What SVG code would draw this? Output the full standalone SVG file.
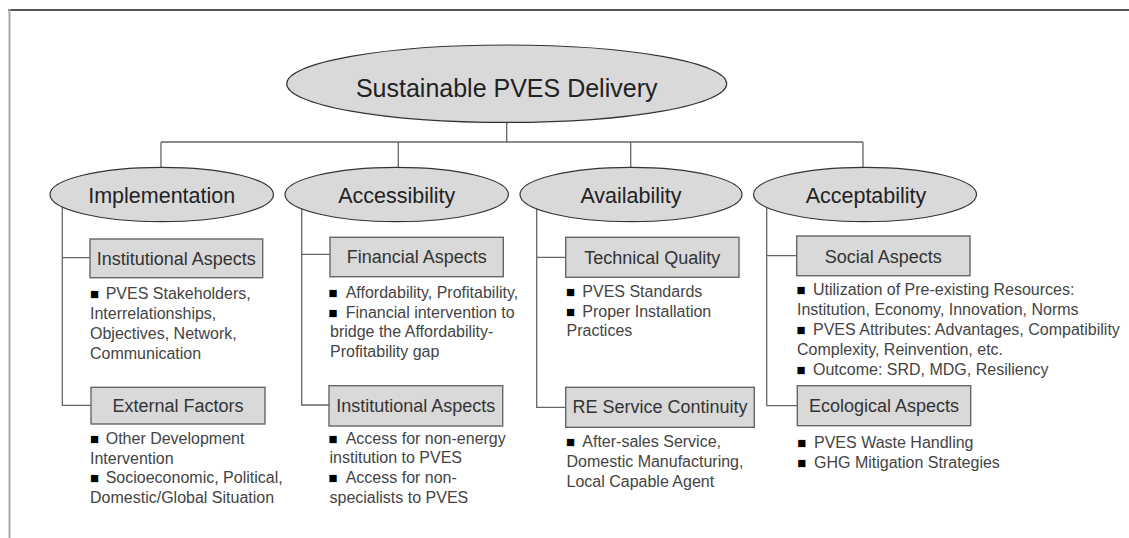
<svg xmlns="http://www.w3.org/2000/svg" width="1129" height="538" viewBox="0 0 1129 538">
<style>
  .frame-top{stroke:#555;stroke-width:2;fill:none}
  .frame-left{stroke:#aaa;stroke-width:2;fill:none}
  .conn{stroke:#666;stroke-width:1.3;fill:none}
  .ell{fill:#d9d9d9;stroke:#333;stroke-width:1.2}
  .box{fill:#d9d9d9;stroke:#666;stroke-width:1.4}
  .title{font-family:"Liberation Sans",Arial,sans-serif;font-size:25px;fill:#222;text-anchor:middle}
  .elab{font-family:"Liberation Sans",Arial,sans-serif;font-size:21.5px;fill:#222;text-anchor:middle}
  .blab{font-family:"Liberation Sans",Arial,sans-serif;font-size:18px;fill:#333;text-anchor:middle}
  .bt{font-family:"Liberation Sans",Arial,sans-serif;font-size:16px;fill:#444}
  .sq{font-size:15px;fill:#000}
</style>

<line class="frame-top" x1="8" y1="10" x2="1129" y2="10"/>
<line class="frame-left" x1="9.5" y1="9" x2="9.5" y2="538"/>

<g id="connectors">
  <path class="conn" d="M506.7 110 V142 M161 142 H863 M161 142 V170 M398.3 142 V170 M630.7 142 V170 M863 142 V170"/>
  <path class="conn" d="M62.3 195 V405.3 H91 M62.3 257.7 H90"/>
  <path class="conn" d="M301.7 195 V405 H329 M301.7 254.3 H330"/>
  <path class="conn" d="M536.7 195 V407.3 H565.7 M536.7 257.3 H565.7"/>
  <path class="conn" d="M766.7 195 V405.7 H797.3 M766.7 255.7 H796.7"/>
</g>

<g id="root">
  <ellipse class="ell" cx="506.7" cy="83.7" rx="220" ry="38.7"/>
  <text class="title" x="506.7" y="97">Sustainable PVES Delivery</text>
</g>

<g id="implementation">
  <ellipse class="ell" cx="161.7" cy="194.5" rx="111.7" ry="27.2"/>
  <text class="elab" x="161.7" y="202.5">Implementation</text>
</g>
<g id="accessibility">
  <ellipse class="ell" cx="396.7" cy="194.5" rx="111.7" ry="27.2"/>
  <text class="elab" x="396.7" y="202.5">Accessibility</text>
</g>
<g id="availability">
  <ellipse class="ell" cx="631" cy="194.5" rx="111" ry="27.2"/>
  <text class="elab" x="631" y="202.5">Availability</text>
</g>
<g id="acceptability">
  <ellipse class="ell" cx="865" cy="194.5" rx="111.5" ry="27.2"/>
  <text class="elab" x="866" y="202.5">Acceptability</text>
</g>

<g id="impl-institutional">
  <rect class="box" x="90" y="239" width="172.7" height="38.7"/>
  <text class="blab" x="176.3" y="265">Institutional Aspects</text>
  <text class="bt"><tspan class="sq" x="90" y="299">■</tspan><tspan x="105.7">PVES Stakeholders,</tspan><tspan x="90" y="319">Interrelationships,</tspan><tspan x="90" y="339">Objectives, Network,</tspan><tspan x="90" y="359">Communication</tspan></text>
</g>
<g id="impl-external">
  <rect class="box" x="91" y="387.3" width="174" height="36.7"/>
  <text class="blab" x="178" y="411.7">External Factors</text>
  <text class="bt"><tspan class="sq" x="90" y="444">■</tspan><tspan x="105.7">Other Development</tspan><tspan x="90" y="463.5">Intervention</tspan><tspan class="sq" x="90" y="483.3">■</tspan><tspan x="105.7">Socioeconomic, Political,</tspan><tspan x="90" y="503.3">Domestic/Global Situation</tspan></text>
</g>

<g id="acc-financial">
  <rect class="box" x="330" y="237.3" width="173.3" height="39.4"/>
  <text class="blab" x="416.7" y="263.3">Financial Aspects</text>
  <text class="bt"><tspan class="sq" x="328.5" y="298.3">■</tspan><tspan x="345.7">Affordability, Profitability,</tspan><tspan class="sq" x="328.5" y="317.5">■</tspan><tspan x="345.7">Financial intervention to</tspan><tspan x="330" y="337">bridge the Affordability-</tspan><tspan x="330" y="356.7">Profitability gap</tspan></text>
</g>
<g id="acc-institutional">
  <rect class="box" x="329" y="385.7" width="173.7" height="40.3"/>
  <text class="blab" x="415.8" y="411.7">Institutional Aspects</text>
  <text class="bt"><tspan class="sq" x="328.5" y="444">■</tspan><tspan x="345.7">Access for non-energy</tspan><tspan x="329.5" y="463.3">institution to PVES</tspan><tspan class="sq" x="328.5" y="483.3">■</tspan><tspan x="345.7">Access for non-</tspan><tspan x="329.5" y="503.3">specialists to PVES</tspan></text>
</g>

<g id="avail-technical">
  <rect class="box" x="565.7" y="237.3" width="173.3" height="40"/>
  <text class="blab" x="652.3" y="264">Technical Quality</text>
  <text class="bt"><tspan class="sq" x="566" y="296.7">■</tspan><tspan x="582.3">PVES Standards</tspan><tspan class="sq" x="566" y="316.7">■</tspan><tspan x="582.3">Proper Installation</tspan><tspan x="566.5" y="336.3">Practices</tspan></text>
</g>
<g id="avail-re">
  <rect class="box" x="565.7" y="387.3" width="188.6" height="40"/>
  <text class="blab" x="660" y="413.3">RE Service Continuity</text>
  <text class="bt"><tspan class="sq" x="566" y="447.3">■</tspan><tspan x="582.3">After-sales Service,</tspan><tspan x="566.5" y="467.3">Domestic Manufacturing,</tspan><tspan x="566.5" y="486.7">Local Capable Agent</tspan></text>
</g>

<g id="accept-social">
  <rect class="box" x="796.7" y="236" width="173.3" height="39.7"/>
  <text class="blab" x="883.3" y="262.7">Social Aspects</text>
  <text class="bt"><tspan class="sq" x="796.6" y="295">■</tspan><tspan x="813">Utilization of Pre-existing Resources:</tspan><tspan x="797" y="315">Institution, Economy, Innovation, Norms</tspan><tspan class="sq" x="796.6" y="335">■</tspan><tspan x="813">PVES Attributes: Advantages, Compatibility</tspan><tspan x="797" y="355">Complexity, Reinvention, etc.</tspan><tspan class="sq" x="796.6" y="375">■</tspan><tspan x="813">Outcome: SRD, MDG, Resiliency</tspan></text>
</g>
<g id="accept-ecological">
  <rect class="box" x="797.3" y="385.7" width="173.4" height="40"/>
  <text class="blab" x="884" y="411.7">Ecological Aspects</text>
  <text class="bt"><tspan class="sq" x="797.3" y="448.3">■</tspan><tspan x="814">PVES Waste Handling</tspan><tspan class="sq" x="797.3" y="467.5">■</tspan><tspan x="814">GHG Mitigation Strategies</tspan></text>
</g>
</svg>
